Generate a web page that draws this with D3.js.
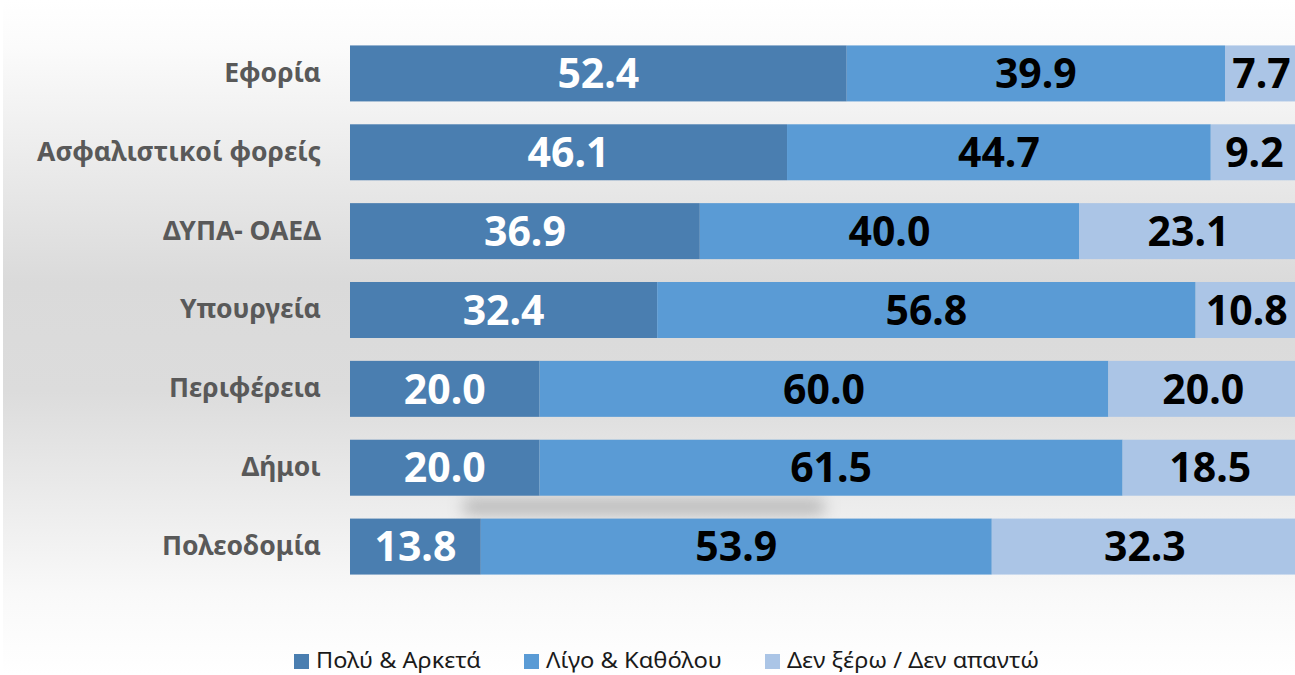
<!DOCTYPE html>
<html lang="el">
<head>
<meta charset="UTF-8">
<title>Εμπιστοσύνη σε υπηρεσίες</title>
<script src="https://d3js.org/d3.v7.min.js"></script>
<style>
  body { margin: 0; }
  svg { display: block; }
</style>
</head>
<body>
<svg id="chart" width="1295" height="675"></svg>
<script>
const categories = ["Εφορία", "Ασφαλιστικοί φορείς", "ΔΥΠΑ- ΟΑΕΔ", "Υπουργεία", "Περιφέρεια", "Δήμοι", "Πολεοδομία"];
const seriesNames = ["Πολύ & Αρκετά", "Λίγο & Καθόλου", "Δεν ξέρω / Δεν απαντώ"];
const polyArketa = [52.4, 46.1, 36.9, 32.4, 20.0, 20.0, 13.8];
const ligoKatholou = [39.9, 44.7, 40.0, 56.8, 60.0, 61.5, 53.9];
const denKsero = [7.7, 9.2, 23.1, 10.8, 20.0, 18.5, 32.3];
const colors = ["#4a7eb0", "#5a9bd5", "#abc5e6"];
const labelColors = ["#ffffff", "#000000", "#000000"];

const table = categories.map((c, i) => ({
  cat: c,
  [seriesNames[0]]: polyArketa[i],
  [seriesNames[1]]: ligoKatholou[i],
  [seriesNames[2]]: denKsero[i]
}));

const svg = d3.select("#chart");
const W = 1295, H = 675;

// background gradient
const defs = svg.append("defs");
const grad = defs.append("linearGradient").attr("id", "bg").attr("x1", 0).attr("y1", 0).attr("x2", 0).attr("y2", 1);
[[0, "#ffffff"], [0.07, "#fbfbfb"], [0.42, "#dadada"], [0.58, "#dcdcdc"], [0.88, "#f9f9f9"], [1, "#ffffff"]]
  .forEach(s => grad.append("stop").attr("offset", s[0]).attr("stop-color", s[1]));
defs.append("filter").attr("id", "blur").attr("x", "-30%").attr("y", "-200%").attr("width", "160%").attr("height", "500%")
  .append("feGaussianBlur").attr("stdDeviation", 8);

svg.append("rect").attr("width", W).attr("height", H).attr("fill", "url(#bg)");
svg.append("rect").attr("width", 3).attr("height", H).attr("fill", "#ffffff");

const x = d3.scaleLinear().domain([0, 100]).range([350, 1298]);
const y = d3.scaleBand().domain(categories).range([34, 586]).paddingInner(0.29).paddingOuter(0.145);

// soft shadow seen above the last bar
svg.append("rect")
  .attr("x", x(12)).attr("y", y(categories[6]) - 20)
  .attr("width", x(50) - x(12)).attr("height", 16)
  .attr("fill", "#b0b0b0").attr("opacity", 0.9)
  .attr("filter", "url(#blur)");

const stack = d3.stack().keys(seriesNames)(table);

const groups = svg.append("g").selectAll("g")
  .data(stack).join("g")
  .attr("fill", (d, i) => colors[i]);

groups.selectAll("rect")
  .data(d => d).join("rect")
  .attr("x", d => x(d[0]))
  .attr("y", d => y(d.data.cat))
  .attr("width", d => x(d[1]) - x(d[0]))
  .attr("height", y.bandwidth());

// value labels
stack.forEach((s, si) => {
  svg.append("g").selectAll("text")
    .data(s).join("text")
    .attr("x", d => (x(d[0]) + x(d[1])) / 2)
    .attr("y", d => y(d.data.cat) + y.bandwidth() / 2)
    .attr("dy", "0.36em")
    .attr("text-anchor", "middle")
    .attr("font-family", "'Noto Sans', sans-serif")
    .attr("font-weight", "bold")
    .attr("font-size", 41)
    .attr("fill", labelColors[si])
    .text(d => (d[1] - d[0]).toFixed(1));
});

// category axis
const yAxis = d3.axisLeft(y).tickSize(0).tickPadding(0);
const ax = svg.append("g").attr("transform", "translate(321,0)").call(yAxis);
ax.select(".domain").remove();
ax.selectAll("text")
  .attr("font-family", "'Noto Sans', sans-serif")
  .attr("font-weight", "bold")
  .attr("font-size", 26.5)
  .attr("fill", "#595959");

// legend
const legendX = [294, 524, 765];
const legend = svg.append("g").selectAll("g")
  .data(seriesNames).join("g")
  .attr("transform", (d, i) => `translate(${legendX[i]},654)`);
legend.append("rect").attr("width", 15).attr("height", 15).attr("fill", (d, i) => colors[i]);
legend.append("text")
  .attr("x", 22).attr("y", 14)
  .attr("font-family", "'Noto Sans', sans-serif")
  .attr("font-size", 22)
  .attr("textLength", (d, i) => [165, 176, 252][i])
  .attr("lengthAdjust", "spacingAndGlyphs")
  .attr("fill", "#1a1a1a")
  .text(d => d);
</script>
</body>
</html>
